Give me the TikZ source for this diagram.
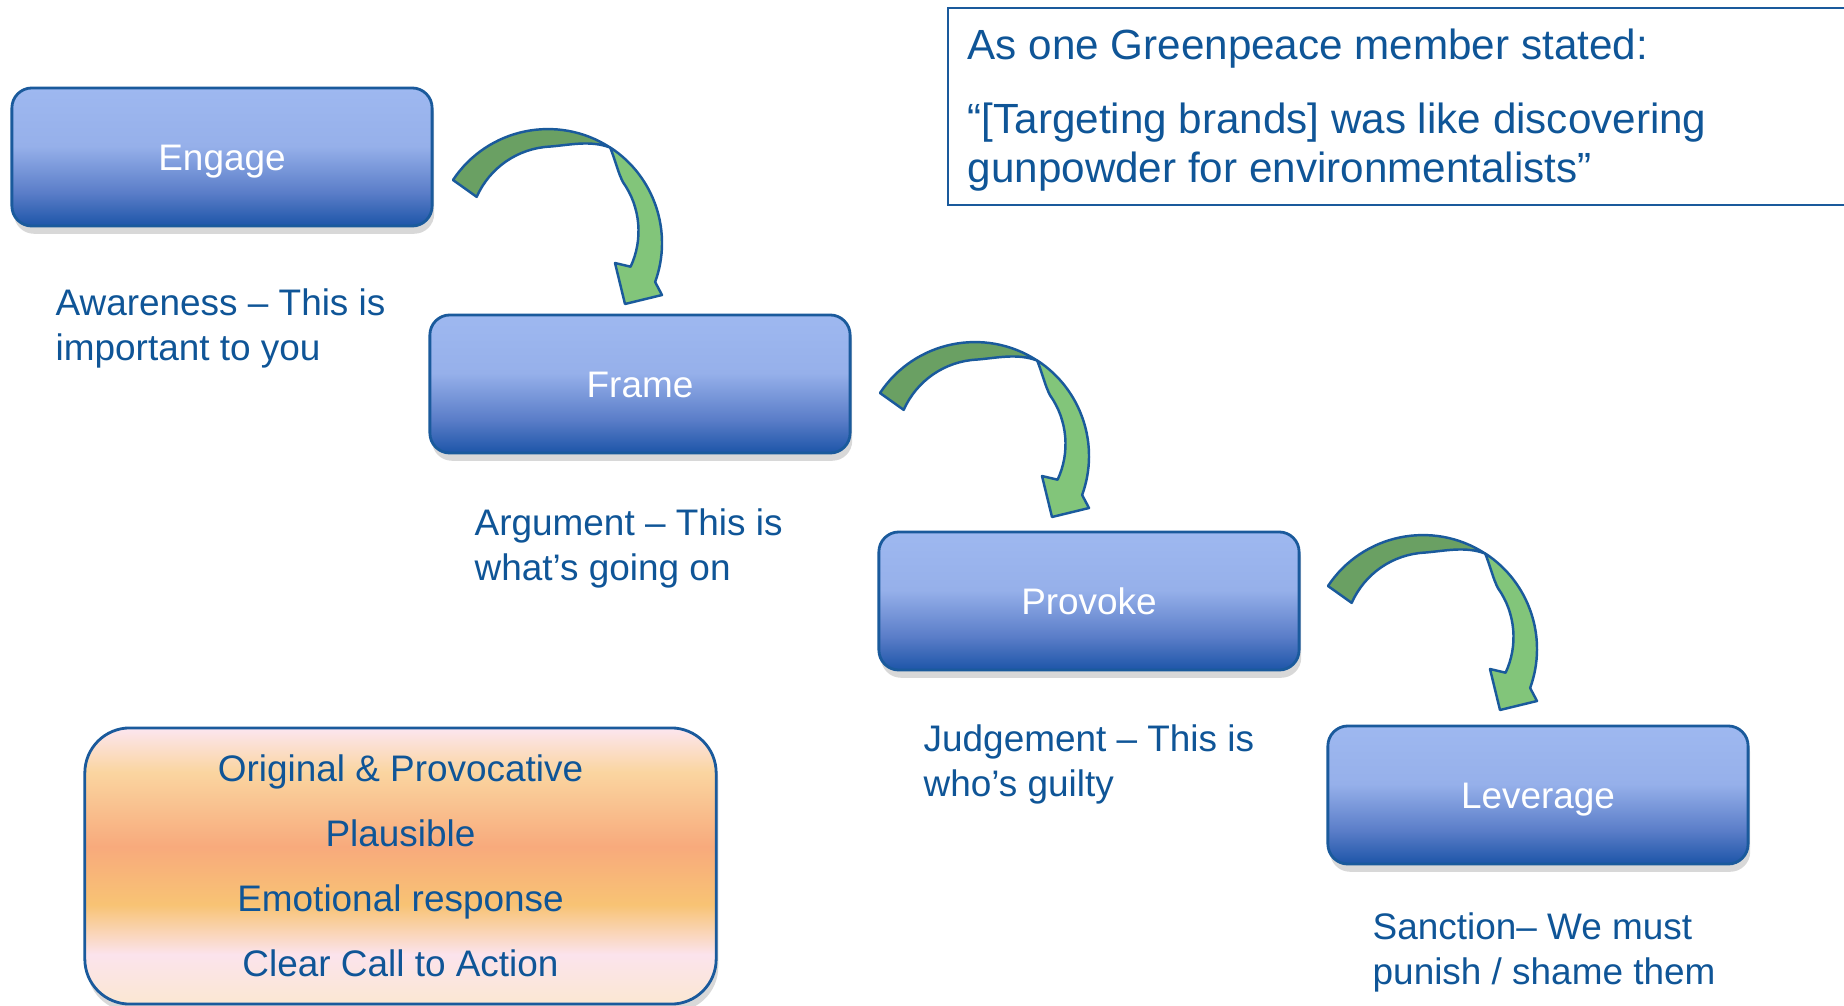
\documentclass[tikz,border=0pt]{standalone}
\usepackage{fontspec}
\setmainfont{Liberation Sans}
\usetikzlibrary{shadows}

\definecolor{boxtop}{HTML}{9EB8F0}
\definecolor{boxhi}{HTML}{96B0EA}
\definecolor{boxmid}{HTML}{5A7DC8}
\definecolor{boxbot}{HTML}{1D55A8}
\definecolor{boxline}{HTML}{1A5A9C}
\definecolor{txtblue}{HTML}{0F5597}
\definecolor{arrowdark}{HTML}{6AA063}
\definecolor{arrowlight}{HTML}{82C57A}
\definecolor{wtop}{HTML}{FCE6F0}
\definecolor{wpeach}{HTML}{FAD5A0}
\definecolor{wsalmon}{HTML}{F8AA7C}
\definecolor{wyellow}{HTML}{F8C374}
\definecolor{wpink}{HTML}{FBE3EC}
\definecolor{wcream}{HTML}{FBE8D2}

\pgfdeclareverticalshading{bluebox}{100bp}{color(0bp)=(boxbot); color(25bp)=(boxbot);
  color(37bp)=(boxmid); color(54bp)=(boxhi); color(75bp)=(boxtop); color(100bp)=(boxtop)}
\pgfdeclareverticalshading{warmbox}{100bp}{color(0bp)=(wcream); color(25bp)=(wcream);
  color(34bp)=(wpink); color(43bp)=(wyellow); color(53.5bp)=(wsalmon); color(67bp)=(wpeach);
  color(75bp)=(wtop); color(100bp)=(wtop)}

\tikzset{
  stepbox/.style={draw=boxline, line width=0.8pt, rounded corners=0.2cm, shading=bluebox,
    minimum width=4.2cm, minimum height=1.38cm, text=white,
    text height=7.5pt, text depth=0pt,
    font=\fontsize{10.5}{12.6}\selectfont,
    drop shadow={shadow xshift=0.6pt, shadow yshift=-2.2pt, opacity=0.3}},
  steplabel/.style={text=txtblue, align=left, inner sep=0pt, anchor=north west,
    font=\fontsize{10.5}{12.8}\selectfont},
  traitbox/.style={draw=boxline, line width=0.8pt, rounded corners=0.45cm, shading=warmbox,
    minimum width=6.31cm, minimum height=2.76cm, text=txtblue, align=center,
    font=\fontsize{10.5}{18.5}\selectfont,
    drop shadow={shadow xshift=0.6pt, shadow yshift=-2.2pt, opacity=0.3}},
  arrowedge/.style={draw=boxline, line width=0.7pt, line join=round},
  % curved arrow, origin at the centre of its outer arc
  bendarrow/.pic={
    \filldraw[arrowedge, fill=arrowdark] (-95,-63) arc[start angle=213.6, end angle=303, radius=114]
      .. controls (42,-103) and (22,-98) .. (1.6,-96.4)
      arc[start angle=267, end angle=203.8, radius=84.5] -- cycle;
    \filldraw[arrowedge, fill=arrowlight] (62.1,-95.6) arc[start angle=303, end angle=380, radius=114]
      -- (114,52) -- (77,61) -- (67,20) -- (82.6,23.7)
      arc[start angle=25, end angle=-35, radius=84.5]
      .. controls (70,-70) and (67,-84) .. (62.1,-95.6) -- cycle;
  }
}

\begin{document}
\begin{tikzpicture}[x=0.01cm,y=-0.01cm]
\useasboundingbox (0,0) rectangle (1844,1006);
\clip (0,0) rectangle (1844,1006);
\fill[white] (0,0) rectangle (1844,1006);

% the four steps
\node[stepbox] (engage) at (222,157) {Engage};
\node[stepbox] (frame) at (640,384) {Frame};
\node[stepbox] (provoke) at (1089,601) {Provoke};
\node[stepbox] (leverage) at (1538,795) {Leverage};

\pic at (548,243) {bendarrow};
\pic at (975,456) {bendarrow};
\pic at (1423,649) {bendarrow};

\node[steplabel] (awareness) at (55,288) {Awareness – This is\\important to you};
\node[steplabel] (argument) at (474,508) {Argument – This is\\what’s going on};
\node[steplabel] (judgement) at (923,724) {Judgement – This is\\who’s guilty};
\node[steplabel] (sanction) at (1372,912) {Sanction– We must\\punish / shame them};

% quote
\draw[boxline, line width=0.8pt] (948,8) rectangle (1870,205);
\node[steplabel, font=\fontsize{12}{13.9}\selectfont] (quote) at (967,28)
  {As one Greenpeace member stated:\\[7.1pt]“[Targeting brands] was like discovering\\gunpowder for environmentalists”};

\node[traitbox] (traits) at (400.5,866)
  {Original \& Provocative\\Plausible\\Emotional response\\Clear Call to Action};
\end{tikzpicture}
\end{document}
